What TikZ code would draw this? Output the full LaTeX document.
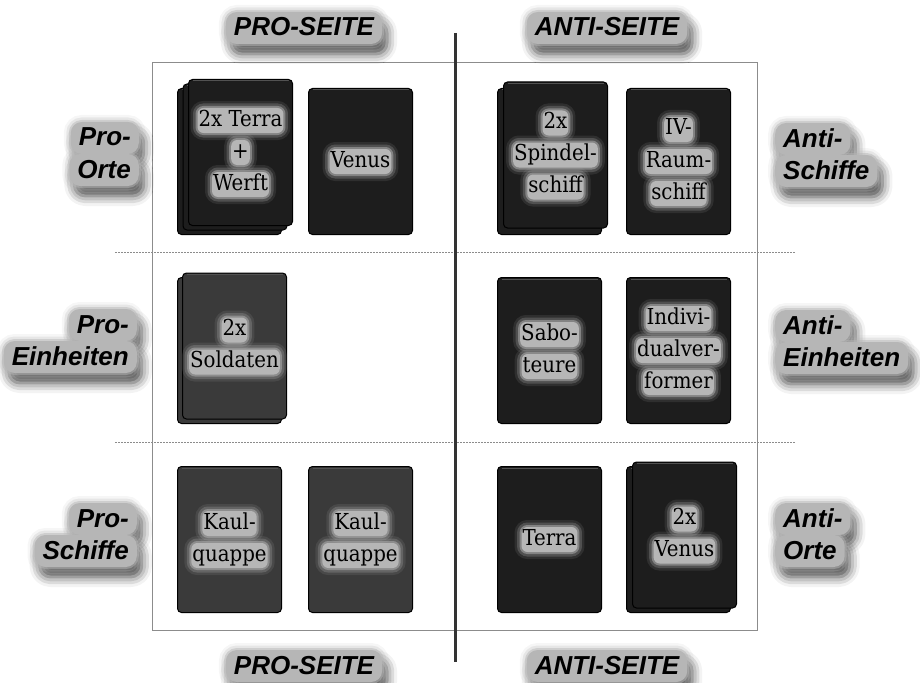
\documentclass[tikz,border=0pt]{standalone}
\usepackage{fontspec}
\usetikzlibrary{positioning,calc,shadows.blur}
\newfontfamily\cardfamily{DejaVu Serif Condensed}
\newfontfamily\labelfamily{Liberation Sans}
\definecolor{cardblack}{RGB}{29,29,29}
\definecolor{cardgrey}{RGB}{58,58,58}
\definecolor{glowgrey}{RGB}{182,182,182}
\definecolor{framegrey}{RGB}{140,140,140}
\tikzset{
  card/.style={
    rectangle, rounded corners=4pt, draw=black, line width=1pt,
    minimum width=104pt, minimum height=146pt, inner sep=0pt,
    path picture={\draw[white!32!black, line width=1pt]
      ([xshift=4pt,yshift=-1.5pt]path picture bounding box.north west) --
      ([xshift=-4pt,yshift=-1.5pt]path picture bounding box.north east);}
  },
  dark card/.style={card, fill=cardblack},
  grey card/.style={card, fill=cardgrey},
  soft glow/.style={
    preaction={draw=glowgrey, line width=14pt, draw opacity=0.12},
    preaction={draw=glowgrey, line width=9pt, draw opacity=0.25},
    preaction={draw=glowgrey, line width=4pt, draw opacity=0.5}
  },
  card text/.style={
    rectangle, rounded corners=6pt, fill=glowgrey, soft glow,
    inner xsep=1pt, inner ysep=2pt, text height=16pt, text depth=5pt,
    font=\cardfamily\fontsize{22}{26}\selectfont
  },
  side label/.style={
    rectangle, rounded corners=11pt, fill=glowgrey, inner xsep=8pt, inner ysep=5pt,
    text height=19pt, text depth=3pt,
    font=\labelfamily\bfseries\itshape\fontsize{26}{32}\selectfont,
    blur shadow={shadow xshift=5pt, shadow yshift=-10pt,
      shadow blur radius=10pt, shadow opacity=75},
    soft glow
  },
  frame line/.style={draw=framegrey, line width=0.8pt},
  row line/.style={draw=framegrey, line width=0.6pt, dash pattern=on 2pt off 1pt},
  divider line/.style={draw=black!80, line width=3pt}
}
\newcommand\cardlines[3]{%
  \foreach \txt [count=\i] in {#3}
    \node[card text] (#1-\i) at ($(#1.center)+(0,{(\i-(#2+1)/2)*32})$) {\txt};}
\newcommand\headlines[4]{%
  \foreach \txt [count=\i] in {#4}
    \node[side label, anchor=#2] (#1-\i) at ($(#3)+(0,{(\i-1)*32})$) {\txt};}

\begin{document}
\begin{tikzpicture}[x=1pt, y=-1pt, node distance=42pt]
  \useasboundingbox (0,0) rectangle (920,682);

  % frame, row separators and the middle divider
  \coordinate (frame nw) at (152,62);
  \coordinate (frame se) at (757,630);
  \draw[frame line] (frame nw) rectangle (frame se);
  \coordinate (row1 west) at (115,252.5);
  \coordinate (row1 east) at (795,252.5);
  \coordinate (row2 west) at (115,442);
  \coordinate (row2 east) at (795,442);
  \draw[row line] (row1 west) -- (row1 east);
  \draw[row line] (row2 west) -- (row2 east);
  \coordinate (divider top) at (455,33);
  \coordinate (divider bottom) at (455,662);
  \draw[divider line] (divider top) -- (divider bottom);

  % pro side
  \node[dark card] (terrawerft base) at (229.5,161.5) {};
  \node[dark card] (terrawerft mid) at ($(terrawerft base)+(5.5,-4.5)$) {};
  \node[dark card] (terrawerft) at ($(terrawerft base)+(11,-9)$) {};
  \node[dark card, right=26pt of terrawerft base] (venus) {};
  \node[grey card, below=of terrawerft base] (soldaten base) {};
  \node[grey card] (soldaten) at ($(soldaten base)+(5,-4.5)$) {};
  \node[grey card, below=of soldaten base] (kaul1) {};
  \node[grey card, right=26pt of kaul1] (kaul2) {};

  % anti side
  \node[dark card] (spindel base) at (549.5,161.5) {};
  \node[dark card] (spindel) at ($(spindel base)+(6,-6.5)$) {};
  \node[dark card, right=24pt of spindel base] (raumschiff) {};
  \node[dark card, below=of spindel base] (saboteure) {};
  \node[dark card, right=24pt of saboteure] (verformer) {};
  \node[dark card, below=of saboteure] (terra) {};
  \node[dark card, right=24pt of terra] (venus2 base) {};
  \node[dark card] (venus2) at ($(venus2 base)+(6,-4.5)$) {};

  % card texts
  \cardlines{terrawerft}{3}{2x Terra,+,Werft}
  \cardlines{venus}{1}{Venus}
  \cardlines{soldaten}{2}{2x,Soldaten}
  \cardlines{kaul1}{2}{Kaul-,quappe}
  \cardlines{kaul2}{2}{Kaul-,quappe}
  \cardlines{spindel}{3}{2x,Spindel-,schiff}
  \cardlines{raumschiff}{3}{IV-,Raum-,schiff}
  \cardlines{saboteure}{2}{Sabo-,teure}
  \cardlines{verformer}{3}{Indivi-,dualver-,former}
  \cardlines{terra}{1}{Terra}
  \cardlines{venus2}{2}{2x,Venus}

  % side headings
  \node[side label] (pro top) at (304,28) {PRO-SEITE};
  \node[side label] (anti top) at (607,28) {ANTI-SEITE};
  \node[side label] (pro bottom) at (304,666) {PRO-SEITE};
  \node[side label] (anti bottom) at (607,666) {ANTI-SEITE};

  % row headings
  \coordinate (pro orte) at (139,138);
  \coordinate (pro einheiten) at (137,325);
  \coordinate (pro schiffe) at (137,519);
  \coordinate (anti schiffe) at (775,139);
  \coordinate (anti einheiten) at (775,326);
  \coordinate (anti orte) at (775,519);
  \headlines{pro orte}{east}{pro orte}{Pro-,Orte}
  \headlines{pro einheiten}{east}{pro einheiten}{Pro-,Einheiten}
  \headlines{pro schiffe}{east}{pro schiffe}{Pro-,Schiffe}
  \headlines{anti schiffe}{west}{anti schiffe}{Anti-,Schiffe}
  \headlines{anti einheiten}{west}{anti einheiten}{Anti-,Einheiten}
  \headlines{anti orte}{west}{anti orte}{Anti-,Orte}
\end{tikzpicture}
\end{document}
